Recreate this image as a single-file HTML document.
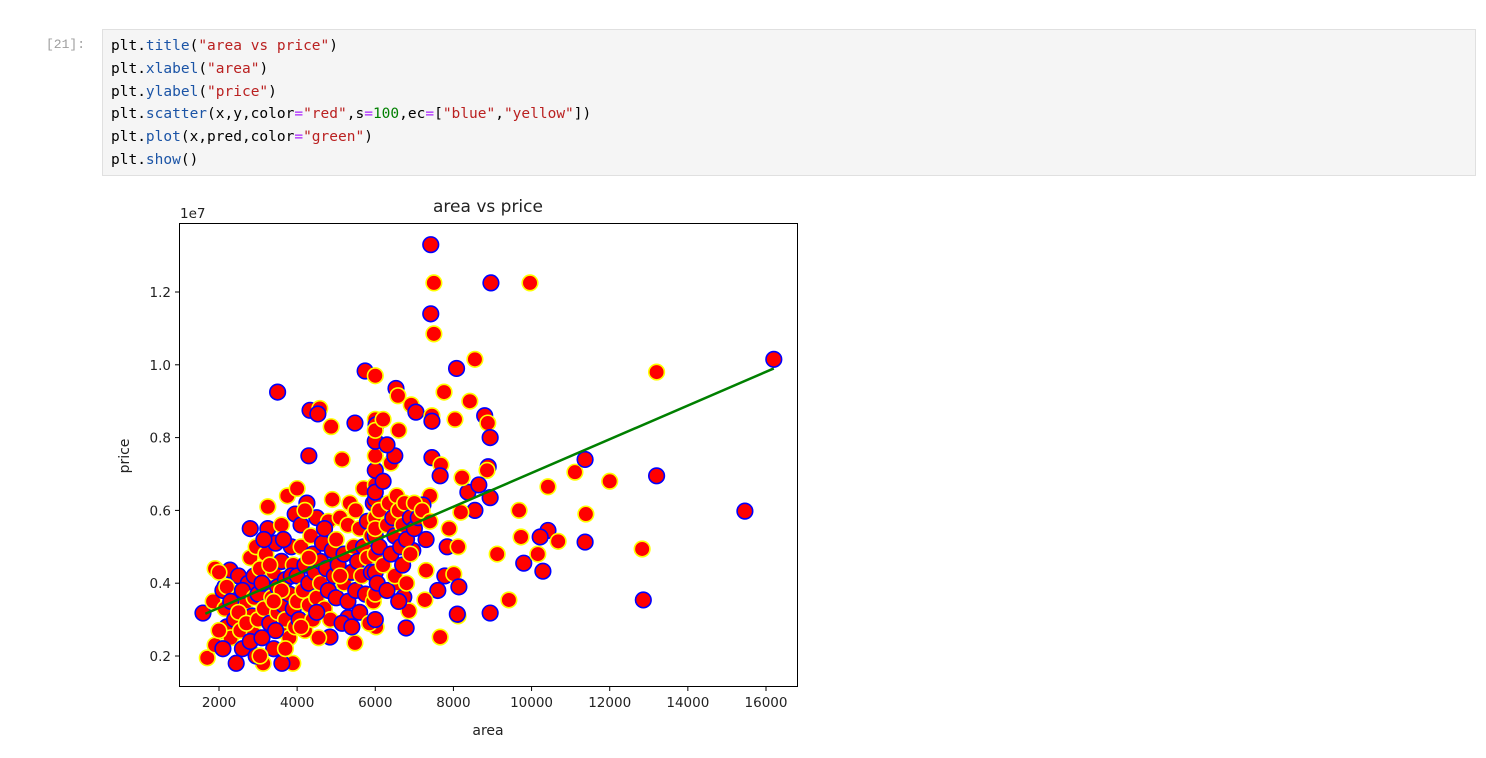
<!DOCTYPE html>
<html><head><meta charset="utf-8">
<style>
body{margin:0;background:#fff;width:1486px;height:758px;overflow:hidden;position:relative;font-family:"DejaVu Sans","Liberation Sans",sans-serif;}
#prompt{position:absolute;left:46px;top:37px;font:13px "Liberation Mono",monospace;color:#9e9e9e;}
#cell{position:absolute;left:102px;top:29px;width:1374px;height:147px;background:#f5f5f5;border:1px solid #e0e0e0;box-sizing:border-box;}
#code{position:absolute;left:8px;top:5px;margin:0;font:14.5px/22.8px "DejaVu Sans Mono","Liberation Mono",monospace;color:#000;}
.s{color:#ba2121}.a{color:#1b54a6}.o{color:#aa22ff}.n{color:#008000}
svg{position:absolute;left:0;top:0}
</style></head><body>
<div id="prompt">[21]:</div>
<div id="cell"><pre id="code">plt.<span class="a">title</span>(<span class="s">"area vs price"</span>)
plt.<span class="a">xlabel</span>(<span class="s">"area"</span>)
plt.<span class="a">ylabel</span>(<span class="s">"price"</span>)
plt.<span class="a">scatter</span>(x,y,color<span class="o">=</span><span class="s">"red"</span>,s<span class="o">=</span><span class="n">100</span>,ec<span class="o">=</span>[<span class="s">"blue"</span>,<span class="s">"yellow"</span>])
plt.<span class="a">plot</span>(x,pred,color<span class="o">=</span><span class="s">"green"</span>)
plt.<span class="a">show</span>()</pre></div>
<svg id="chart" width="1486" height="758"></svg>
<script>
const areas=[7420,7500,8960,9960,7420,7500,16200,8550,8080,13200,3500,7760,5740,6000,6530,6580,4330,4580,4530,4870,5480,8420,8800,8880,8940,6000,6020,6920,7040,7450,7450,8040,4300,5150,7450,7680,8890,8860,7660,11110,11370,12000,13200,10420,15460,11390,10420,9680,8940,9730,10220,10680,11370,9120,9800,10160,10290,12830,12860,9420,8940,8120,8100,7660,6790,6020,8550,8190,8370,8220,8650,7400,7220,7890,7840,8120,7780,8010,8140,7300,7600,7270,6960,6560,6730,6860,4840,5480,5300,3890,3610,3130,2440,1700,2050,1900,1590,1850,2150,1900,2280,
2000,2100,2150,2200,2300,2400,2400,2500,2550,2600,2700,2750,2800,2850,2900,2950,2000,2100,2200,2300,2500,2600,2700,2800,2900,2900,2950,2800,
3000,3000,3050,3100,3150,3200,3200,3250,3250,3300,3350,3400,3400,3450,3500,3500,3550,3600,3600,3650,3700,3700,3750,3800,3800,3850,3900,3900,3950,3950,3050,3150,3300,3450,3600,3850,3700,3100,3400,3650,
4000,4000,4000,4050,4100,4100,4150,4200,4200,4250,4300,4300,4350,4400,4400,4450,4500,4500,4550,4600,4600,4650,4700,4750,4800,4800,4850,4900,4900,4950,4200,4700,4100,4500,4300,
5000,5000,5050,5100,5150,5200,5200,5300,5300,5350,5400,5450,5500,5500,5550,5600,5600,5650,5700,5700,5750,5800,5800,5850,5900,5900,5950,5950,5400,5100,
6000,6000,6000,6000,6000,6000,6000,6000,6000,6000,6000,6000,6000,6000,6050,6100,6100,6200,6200,6300,6300,6350,6400,6400,6450,6500,6500,6550,6600,6600,6650,6700,6700,6750,6800,6800,6900,6900,7000,7000,7100,7200,7300,7400,6500,6600,6300,6200];
const prices=[1.33,1.225,1.225,1.225,1.14,1.085,1.015,1.015,0.99,0.98,0.925,0.925,0.983,0.97,0.935,0.915,0.875,0.88,0.865,0.83,0.84,0.9,0.86,0.84,0.8,0.85,0.835,0.89,0.87,0.86,0.845,0.85,0.75,0.74,0.745,0.725,0.72,0.71,0.695,0.705,0.74,0.68,0.695,0.665,0.598,0.59,0.545,0.6,0.635,0.527,0.527,0.515,0.513,0.48,0.455,0.48,0.433,0.494,0.354,0.354,0.318,0.31,0.315,0.252,0.277,0.28,0.6,0.595,0.65,0.69,0.67,0.64,0.615,0.55,0.5,0.5,0.42,0.425,0.39,0.435,0.38,0.354,0.49,0.4,0.362,0.324,0.252,0.236,0.305,0.18,0.18,0.18,0.18,0.195,0.27,0.23,0.318,0.35,0.39,0.44,0.436,
0.43,0.38,0.33,0.28,0.25,0.3,0.36,0.42,0.27,0.22,0.35,0.4,0.47,0.31,0.26,0.2,0.27,0.22,0.39,0.35,0.32,0.38,0.29,0.24,0.36,0.42,0.5,0.55,
0.3,0.37,0.44,0.25,0.33,0.4,0.48,0.55,0.61,0.29,0.36,0.22,0.43,0.51,0.32,0.39,0.27,0.46,0.56,0.34,0.3,0.41,0.64,0.37,0.25,0.5,0.45,0.33,0.28,0.59,0.2,0.52,0.45,0.27,0.38,0.42,0.22,0.4,0.35,0.52,
0.35,0.42,0.66,0.3,0.5,0.56,0.38,0.45,0.27,0.62,0.34,0.4,0.53,0.48,0.3,0.43,0.36,0.58,0.25,0.46,0.4,0.51,0.33,0.44,0.57,0.38,0.3,0.49,0.63,0.42,0.6,0.55,0.28,0.32,0.47,
0.36,0.52,0.45,0.58,0.29,0.4,0.48,0.56,0.35,0.62,0.43,0.5,0.38,0.6,0.46,0.55,0.32,0.42,0.5,0.66,0.37,0.47,0.57,0.29,0.43,0.53,0.62,0.35,0.28,0.42,
0.3,0.37,0.43,0.48,0.53,0.58,0.63,0.67,0.71,0.75,0.79,0.82,0.65,0.55,0.4,0.6,0.5,0.45,0.68,0.56,0.38,0.62,0.48,0.73,0.58,0.42,0.53,0.64,0.35,0.6,0.5,0.56,0.45,0.62,0.52,0.4,0.58,0.48,0.55,0.62,0.58,0.6,0.52,0.57,0.75,0.82,0.78,0.85];
const lineAreas=[1650,16200];
const linePred=[0.316,0.99];
const xTicks=[2000,4000,6000,8000,10000,12000,14000,16000];
const yTicks=[0.2,0.4,0.6,0.8,1.0,1.2];
const yTickLabels=["0.2","0.4","0.6","0.8","1.0","1.2"];

const NS="http://www.w3.org/2000/svg";
const svg=document.getElementById('chart');
const L=179,R=798,T=223,B=687;
function X(a){return 219+(a-2000)*0.039071;}
function Y(p){return 656-(p-0.2)*364;}
function mk(tag,attrs,parent){const e=document.createElementNS(NS,tag);for(const k in attrs)e.setAttribute(k,attrs[k]);(parent||svg).appendChild(e);return e;}

const clip=mk('clipPath',{id:'clp'});mk('rect',{x:L,y:T,width:R-L,height:B-T},clip);
const g=mk('g',{'clip-path':'url(#clp)'});


for(let i=0;i<areas.length;i++){
  const c=mk('circle',{cx:X(areas[i]),cy:Y(prices[i]),r:7.8,fill:'#ff0000',stroke:i%2?'#ffff00':'#0000ff','stroke-width':1.6},g);
  
  
}
const ln=mk('polyline',{points:lineAreas.map((a,i)=>X(a)+','+Y(linePred[i])).join(' '),fill:'none',stroke:'#008000','stroke-width':2.5});



const fr=mk('rect',{x:L+0.5,y:T+0.5,width:R-L-1,height:B-T-1,fill:'none',stroke:'#000','stroke-width':1});



xTicks.forEach(v=>{
  const x=X(v);
  mk('line',{x1:x,y1:B,x2:x,y2:B+4,stroke:'#000'});
  const t=mk('text',{x:x,y:B+20,'text-anchor':'middle','font-size':'13.5','fill':'#222'});
  t.textContent=v;
  
  
});
yTicks.forEach((v,i)=>{
  const y=Y(v);
  mk('line',{x1:L-4,y1:y,x2:L,y2:y,stroke:'#000'});
  const t=mk('text',{x:L-8,y:y+5,'text-anchor':'end','font-size':'13.5','fill':'#222'});
  t.textContent=yTickLabels[i];
  
  
});
const off=mk('text',{x:180,y:218,'font-size':'13.5','fill':'#222'});off.textContent='1e7';


const ti=mk('text',{x:488,y:212,'text-anchor':'middle','font-size':'17','fill':'#222'});ti.textContent='area vs price';


const xl=mk('text',{x:488,y:735,'text-anchor':'middle','font-size':'14','fill':'#222'});xl.textContent='area';


const yl=mk('text',{x:0,y:0,'text-anchor':'middle','font-size':'14','fill':'#222',transform:'translate(129,456) rotate(-90)'});yl.textContent='price';


</script>
</body></html>
